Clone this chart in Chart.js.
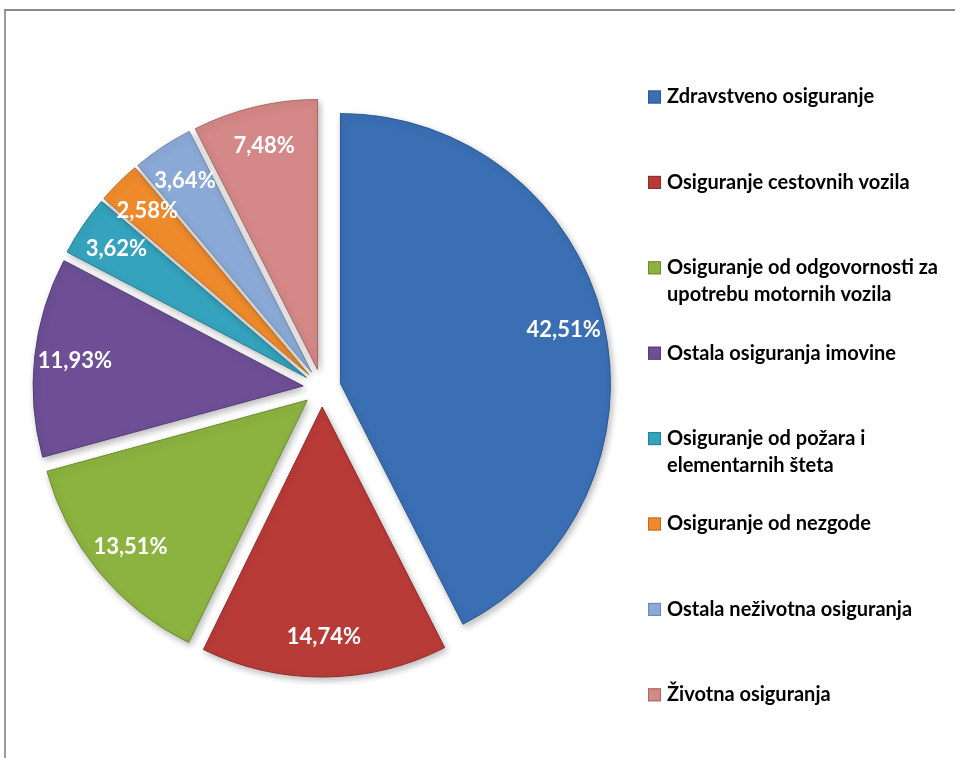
<!DOCTYPE html>
<html>
<head>
<meta charset="utf-8">
<script src="https://cdn.jsdelivr.net/npm/chart.js@4.4.0/dist/chart.umd.min.js"></script>
<style>
  html, body { margin: 0; padding: 0; background: #fff; }
  #okvir { position: absolute; left: 4px; top: 9px; width: 1000px; height: 800px;
           border-top: 2px solid #8a8a8a; border-left: 2px solid #9a9a9a; }
  #graf { position: absolute; left: 0; top: 0; }
</style>
</head>
<body>
<div id="okvir"></div>
<canvas id="graf" width="955" height="758"></canvas>
<script>
// vrste osiguranja (dvoredni nazivi su polja)
const vrste = [
    'Zdravstveno osiguranje',
    'Osiguranje cestovnih vozila',
    ['Osiguranje od odgovornosti za', 'upotrebu motornih vozila'],
    'Ostala osiguranja imovine',
    ['Osiguranje od požara i', 'elementarnih šteta'],
    'Osiguranje od nezgode',
    'Ostala neživotna osiguranja',
    'Životna osiguranja'
];
// udjeli u postocima
const udjeli = [42.51, 14.74, 13.51, 11.93, 3.62, 2.58, 3.64, 7.48];

const boje = ['#3a6fb4', '#b93b38', '#8cb33f', '#6e4f96', '#35a3bd', '#ee8a2b', '#8ba9d6', '#d48887'];
const rubovi = ['#2d5890', '#8f2b29', '#6c8c2e', '#553c76', '#277f94', '#c06a1c', '#6d87b0', '#a86665'];

// koliko je svaki isječak izvučen od središta
const pomak = 19;

// legenda desno od kruga
const legenda = {
    id: 'legenda',
    afterDraw(chart) {
        const ctx = chart.ctx;
        ctx.save();
        ctx.font = 'bold 20px Lato';
        ctx.textBaseline = 'middle';
        vrste.forEach((v, i) => {
            const y = 97 + i * 85.4;
            ctx.fillStyle = boje[i];
            ctx.fillRect(648, y - 6.5, 13, 13);
            ctx.strokeStyle = rubovi[i];
            ctx.lineWidth = 1;
            ctx.strokeRect(648.5, y - 6, 12, 12);
            ctx.fillStyle = '#000';
            [].concat(v).forEach((red, j) => ctx.fillText(red, 667, y + j * 27));
        });
        ctx.restore();
    }
};

// isječci se crtaju izvučeni (offset u v4 se dijeli s 4 pa to radimo sami), sa sjenom
const isjecci = {
    id: 'isjecci',
    beforeDatasetDraw(chart, args) {
        const ctx = chart.ctx;
        ctx.save();
        ctx.shadowColor = 'rgba(0,0,0,0.28)';
        ctx.shadowBlur = 7;
        ctx.shadowOffsetX = 2;
        ctx.shadowOffsetY = 3;
        args.meta.data.forEach((luk) => {
            const kut = (luk.startAngle + luk.endAngle) / 2;
            ctx.save();
            ctx.translate(Math.cos(kut) * pomak, Math.sin(kut) * pomak);
            luk.draw(ctx);
            ctx.restore();
        });
        ctx.restore();
        return false;
    },
    afterDatasetsDraw(chart) {
        const ctx = chart.ctx;
        ctx.save();
        ctx.font = 'bold 22px Lato';
        ctx.fillStyle = '#fff';
        ctx.textAlign = 'center';
        ctx.textBaseline = 'middle';
        chart.getDatasetMeta(0).data.forEach((luk, i) => {
            const {x, y, startAngle, endAngle, outerRadius} =
                luk.getProps(['x', 'y', 'startAngle', 'endAngle', 'outerRadius'], true);
            const kut = (startAngle + endAngle) / 2;
            const r = outerRadius * 0.85 + pomak;
            const tekst = udjeli[i].toFixed(2).replace('.', ',') + '%';
            ctx.fillText(tekst, x + Math.cos(kut) * r, y + Math.sin(kut) * r);
        });
        ctx.restore();
    }
};

new Chart(document.getElementById('graf'), {
    type: 'pie',
    data: {
        labels: vrste,
        datasets: [{
            data: udjeli,
            backgroundColor: boje,
            borderColor: rubovi,
            borderWidth: 1,
        }]
    },
    options: {
        responsive: false,
        animation: false,
        radius: 270,
        layout: {
            padding: { left: 0, right: 311, top: 110, bottom: 92 }
        },
        plugins: {
            legend: { display: false },
            tooltip: { enabled: false },
        },
    },
    plugins: [isjecci, legenda]
});
</script>
</body>
</html>
